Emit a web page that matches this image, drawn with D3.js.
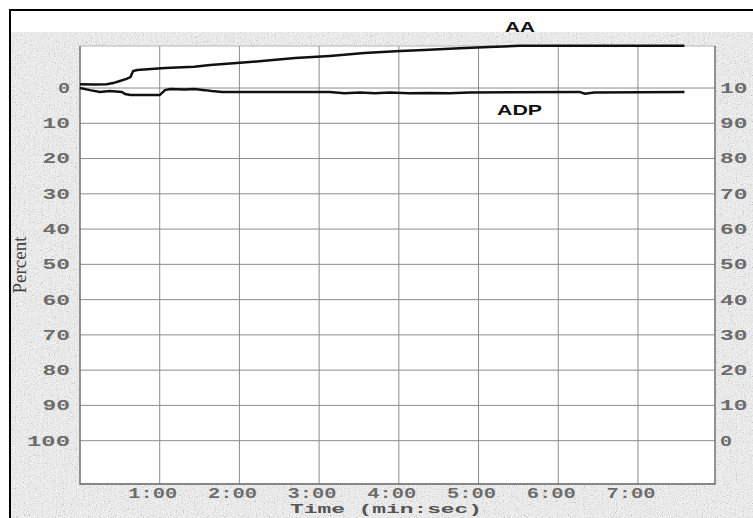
<!DOCTYPE html>
<html>

<head>
    <meta charset="utf-8">
    <style>
        body {
            margin: 0;
            background: #fff;
        }

        svg {
            display: block;
        }

        .tick-label {
            font-family: 'Liberation Mono', 'Courier New', monospace;
            font-size: 14px;
            font-weight: bold;
            fill: #6c6c6c;
        }

        .axis-title {
            font-family: 'Liberation Mono', 'Courier New', monospace;
            font-size: 13px;
            font-weight: bold;
            fill: #555;
        }

        .y-title {
            font-family: 'Liberation Serif', serif;
            font-size: 19px;
            fill: #444;
        }

        .series-label {
            font-family: 'Liberation Sans', Arial, sans-serif;
            font-size: 14px;
            font-weight: bold;
            fill: #111;
        }

        .grid line {
            stroke: #8c8c8c;
            stroke-width: 1;
        }
    </style>
</head>

<body>
    <svg width="753" height="518"></svg>

    <script src="https://cdn.jsdelivr.net/npm/d3@7"></script>
    <script>
        // time in seconds, value in percent
        let aaTime = [0, 11, 20, 25, 30, 35, 38, 40, 43, 64, 86, 98, 118, 139, 162, 188, 214, 241, 259, 286, 308, 331, 455];
        let aaValue = [-1.1, -1.0, -1.1, -1.4, -2.0, -2.6, -3.1, -4.8, -5.1, -5.7, -6.0, -6.5, -7.1, -7.7, -8.5, -9.1, -9.9, -10.5, -10.8, -11.3, -11.6, -12.0, -12.0];

        let adpTime = [0, 7.5, 15, 22.5, 31.5, 34, 38, 60, 64, 68, 79, 86, 94, 99, 107, 188, 199, 211, 222, 233, 248, 263, 278, 293, 376, 380, 387, 455];
        let adpValue = [0, 0.6, 1.1, 0.85, 1.1, 1.7, 2.0, 2.0, 0.6, 0.3, 0.4, 0.3, 0.6, 0.85, 1.1, 1.1, 1.5, 1.3, 1.5, 1.25, 1.5, 1.4, 1.5, 1.25, 1.1, 1.6, 1.25, 1.1];

        let yTicks = [0, 10, 20, 30, 40, 50, 60, 70, 80, 90, 100];
        let yRightLabels = ["10", "90", "80", "70", "60", "50", "40", "30", "20", "10", "0"];
        let xTicks = [60, 120, 180, 240, 300, 360, 420];
        let xTickLabels = ["1:00", "2:00", "3:00", "4:00", "5:00", "6:00", "7:00"];

        let svg = d3.select("svg");

        let plot = { left: 80, right: 715, top: 46, bottom: 484 };

        let x = d3.scaleLinear()
            .domain([0, 478])
            .range([plot.left, plot.right]);

        let y = d3.scaleLinear()
            .domain([-12, 112])
            .range([45.7, 483]);

        // wide stamped digits: each character ~15.5px
        let digitWidth = s => s.length * 15.5 - 3.5;

        // speckled scan background
        let defs = svg.append("defs");
        let noise = defs.append("filter").attr("id", "noise")
            .attr("x", 0).attr("y", 0).attr("width", 1).attr("height", 1);
        noise.append("feTurbulence")
            .attr("type", "fractalNoise")
            .attr("baseFrequency", 0.85)
            .attr("numOctaves", 2)
            .attr("seed", 3);
        noise.append("feColorMatrix")
            .attr("type", "matrix")
            .attr("values", "0.33 0.33 0.33 0 0  0.33 0.33 0.33 0 0  0.33 0.33 0.33 0 0  0 0 0 0 1");
        let ct = noise.append("feComponentTransfer");
        ["feFuncR", "feFuncG", "feFuncB"].forEach(f => {
            ct.append(f).attr("type", "linear").attr("slope", 3).attr("intercept", -1);
        });

        svg.append("rect")
            .attr("x", 11).attr("y", 32)
            .attr("width", 742).attr("height", 486)
            .attr("fill", "#f6f6f6");
        svg.append("rect")
            .attr("x", 11).attr("y", 32)
            .attr("width", 742).attr("height", 486)
            .attr("filter", "url(#noise)")
            .attr("opacity", 0.2);

        // outer frame
        svg.append("path")
            .attr("d", "M10,520 L10,10 L760,10")
            .attr("fill", "none")
            .attr("stroke", "#000")
            .attr("stroke-width", 2);

        // plot area
        svg.append("rect")
            .attr("x", plot.left).attr("y", plot.top)
            .attr("width", plot.right - plot.left)
            .attr("height", plot.bottom - plot.top)
            .attr("fill", "#fff")
            .attr("stroke", "#b5b5b5")
            .attr("stroke-width", 1);

        let grid = svg.append("g").attr("class", "grid");

        grid.selectAll(".h")
            .data(yTicks)
            .join("line")
            .attr("class", "h")
            .attr("x1", plot.left).attr("x2", plot.right)
            .attr("y1", d => y(d)).attr("y2", d => y(d));

        grid.selectAll(".v")
            .data(xTicks)
            .join("line")
            .attr("class", "v")
            .attr("x1", d => x(d)).attr("x2", d => x(d))
            .attr("y1", plot.top).attr("y2", plot.bottom);

        // darker frame on left, bottom, right
        svg.append("path")
            .attr("d", `M${plot.left},${plot.top} V${plot.bottom} H${plot.right} V${plot.top}`)
            .attr("fill", "none")
            .attr("stroke", "#6e6e6e")
            .attr("stroke-width", 1.3);

        // left labels
        svg.append("g")
            .selectAll("text")
            .data(yTicks)
            .join("text")
            .attr("class", "tick-label")
            .attr("x", 70)
            .attr("y", d => y(d))
            .attr("dy", "0.35em")
            .attr("text-anchor", "end")
            .attr("textLength", d => digitWidth(String(d)))
            .attr("lengthAdjust", "spacingAndGlyphs")
            .text(d => d);

        // right labels
        svg.append("g")
            .selectAll("text")
            .data(yTicks)
            .join("text")
            .attr("class", "tick-label")
            .attr("x", 720)
            .attr("y", d => y(d))
            .attr("dy", "0.35em")
            .attr("textLength", (d, i) => digitWidth(yRightLabels[i]))
            .attr("lengthAdjust", "spacingAndGlyphs")
            .text((d, i) => yRightLabels[i]);

        // bottom labels
        svg.append("g")
            .selectAll("text")
            .data(xTicks)
            .join("text")
            .attr("class", "tick-label")
            .attr("x", d => x(d) - 7)
            .attr("y", 498)
            .attr("text-anchor", "middle")
            .attr("textLength", 49)
            .attr("lengthAdjust", "spacingAndGlyphs")
            .text((d, i) => xTickLabels[i]);

        svg.append("text")
            .attr("class", "axis-title")
            .attr("x", 386)
            .attr("y", 513)
            .attr("text-anchor", "middle")
            .attr("textLength", 192)
            .attr("lengthAdjust", "spacingAndGlyphs")
            .text("Time (min:sec)");

        svg.append("text")
            .attr("class", "y-title")
            .attr("transform", "translate(26,265) rotate(-90)")
            .attr("text-anchor", "middle")
            .text("Percent");

        // curves
        let line = d3.line()
            .x(d => x(d[0]))
            .y(d => y(d[1]));

        let aaData = aaTime.map((t, i) => [t, aaValue[i]]);
        let adpData = adpTime.map((t, i) => [t, adpValue[i]]);

        svg.append("path")
            .datum(aaData)
            .attr("d", line)
            .attr("fill", "none")
            .attr("stroke", "#111")
            .attr("stroke-width", 2.5);

        svg.append("path")
            .datum(adpData)
            .attr("d", line)
            .attr("fill", "none")
            .attr("stroke", "#111")
            .attr("stroke-width", 2.5);

        svg.append("text")
            .attr("class", "series-label")
            .attr("x", 505)
            .attr("y", 32)
            .attr("textLength", 30)
            .attr("lengthAdjust", "spacingAndGlyphs")
            .text("AA");

        svg.append("text")
            .attr("class", "series-label")
            .attr("x", 497)
            .attr("y", 115)
            .attr("textLength", 45)
            .attr("lengthAdjust", "spacingAndGlyphs")
            .text("ADP");
    </script>
</body>

</html>
